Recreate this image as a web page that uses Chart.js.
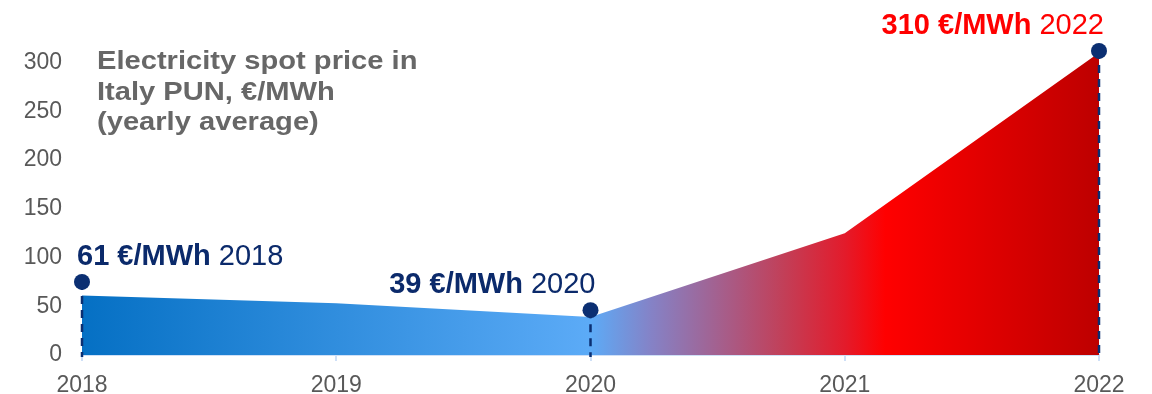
<!DOCTYPE html>
<html>
<head>
<meta charset="utf-8">
<script src="https://cdn.jsdelivr.net/npm/chart.js@4"></script>
<style>
  html, body { margin: 0; padding: 0; background: #fff; }
  #wrap { width: 1152px; height: 394px; }
</style>
</head>
<body>
<div id="wrap"><canvas id="punChart" width="1152" height="394"></canvas></div>
<script>
// PUN yearly average, €/MWh
const years = ['2018', '2019', '2020', '2021', '2022'];
const pun = [61, 53, 39, 125, 310];
// highlighted years (marker dot + dashed drop line)
const markerValues = [75, null, 46, null, 312];
const calloutValues = ['61 €/MWh', null, '39 €/MWh', null, '310 €/MWh'];
const calloutAlign = ['left', null, 'right', null, 'right'];
const calloutColors = ['#0b2a6b', null, '#0b2a6b', null, '#ff0000'];
const titleLines = ['Electricity spot price in', 'Italy PUN, €/MWh', '(yearly average)'];
const yTickStep = 50;
const yTickTop = 300;

const FONT = '"Liberation Sans", Arial, sans-serif';
const NAVY = '#0b2f72';

function areaGradient(context) {
  const chart = context.chart;
  const area = chart.chartArea;
  if (!area) return '#5aabf6';
  const g = chart.ctx.createLinearGradient(area.left, 0, area.right, 0);
  g.addColorStop(0, '#0570c4');
  g.addColorStop(0.5, '#5cabf7');
  g.addColorStop(0.56, '#8582c6');
  g.addColorStop(0.69, '#c23f58');
  g.addColorStop(0.75, '#e31b2b');
  g.addColorStop(0.79, '#ff0000');
  g.addColorStop(1, '#bd0000');
  return g;
}

// dashed drop lines under the markers, drawn right after the area
const dropLines = {
  id: 'dropLines',
  afterDatasetDraw(chart, args) {
    if (args.index !== 0) return;
    const { ctx, scales: { x, y } } = chart;
    ctx.save();
    ctx.strokeStyle = NAVY;
    ctx.lineWidth = 2.5;
    ctx.setLineDash([8, 6]);
    markerValues.forEach((v, i) => {
      if (v == null) return;
      const px = x.getPixelForValue(i);
      ctx.beginPath();
      ctx.moveTo(px, y.getPixelForValue(v));
      ctx.lineTo(px, y.getPixelForValue(0) + 2);
      ctx.stroke();
    });
    ctx.restore();
  }
};

// title block and the price callouts
const textLayer = {
  id: 'textLayer',
  afterDraw(chart) {
    const { ctx, scales: { x, y } } = chart;
    ctx.save();
    ctx.textBaseline = 'alphabetic';
    ctx.textAlign = 'left';

    // title is a touch wider than plain Arial bold
    ctx.fillStyle = '#676767';
    ctx.font = 'bold 26px ' + FONT;
    titleLines.forEach((t, i) => {
      ctx.save();
      ctx.translate(97, 69 + i * 30.5);
      ctx.scale(1.12, 1);
      ctx.fillText(t, 0, 0);
      ctx.restore();
    });

    calloutValues.forEach((val, i) => {
      if (val == null) return;
      const px = x.getPixelForValue(i);
      const py = y.getPixelForValue(markerValues[i]) - 17;
      ctx.font = 'bold 29px ' + FONT;
      const wBold = ctx.measureText(val + ' ').width;
      ctx.font = '29px ' + FONT;
      const wYear = ctx.measureText(years[i]).width;
      const left = calloutAlign[i] === 'left' ? px - 5 : px + 5 - wBold - wYear;
      ctx.fillStyle = calloutColors[i];
      ctx.font = 'bold 29px ' + FONT;
      ctx.fillText(val + ' ', left, py);
      ctx.font = '29px ' + FONT;
      ctx.fillText(years[i], left + wBold, py);
    });
    ctx.restore();
  }
};

new Chart(document.getElementById('punChart'), {
  type: 'line',
  data: {
    labels: years,
    datasets: [
      {
        label: 'PUN',
        data: pun,
        fill: 'origin',
        backgroundColor: areaGradient,
        borderWidth: 0,
        pointRadius: 0,
        tension: 0,
        order: 1,
        clip: false
      },
      {
        label: 'markers',
        data: markerValues,
        showLine: false,
        pointRadius: 8,
        pointBackgroundColor: NAVY,
        pointBorderWidth: 0,
        order: 0,
        clip: false
      }
    ]
  },
  options: {
    responsive: false,
    animation: false,
    layout: { padding: { top: 48, right: 53, bottom: 0, left: 0 } },
    plugins: { legend: { display: false }, tooltip: { enabled: false } },
    scales: {
      x: {
        offset: false,
        grid: { drawOnChartArea: false, color: '#cfe0f7', tickLength: 6, lineWidth: 2 },
        border: { color: '#cfe0f7', width: 2 },
        ticks: { color: '#595959', font: { family: FONT, size: 23 }, padding: 11, maxRotation: 0 },
        afterFit(scale) { scale.height = 39; }
      },
      y: {
        min: 0,
        max: 315,
        grid: { display: false },
        border: { display: false },
        ticks: {
          stepSize: yTickStep,
          includeBounds: false,
          color: '#595959',
          font: { family: FONT, size: 23 },
          padding: 12
        },
        afterBuildTicks(scale) {
          scale.ticks = scale.ticks.filter(t => t.value % yTickStep === 0 && t.value <= yTickTop);
        },
        afterFit(scale) { scale.width = 82; }
      }
    }
  },
  plugins: [dropLines, textLayer]
});
</script>
</body>
</html>
